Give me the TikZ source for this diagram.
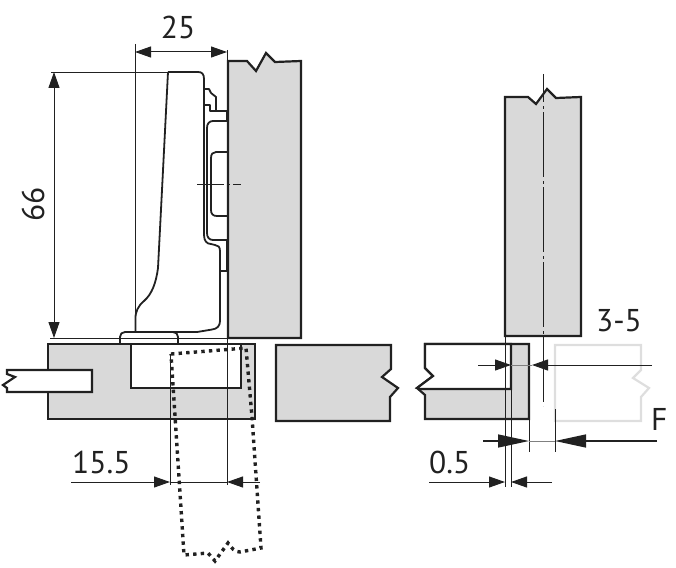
\documentclass[tikz,border=0pt]{standalone}
\usepackage{fontspec}
\setmainfont{PT Sans}
\usetikzlibrary{arrows.meta}
\definecolor{panelgray}{gray}{0.85}
\definecolor{darkline}{gray}{0.13}
\tikzset{
  panel/.style={draw=darkline, line width=2.2pt, fill=panelgray, line join=miter},
  blank/.style={draw=darkline, line width=2.2pt, fill=white},
  hinge/.style={draw=darkline, line width=1.8pt, line join=round},
  thin line/.style={draw=darkline, line width=0.9pt},
  dim/.style={draw=darkline, line width=1pt},
  tip/.style={-{Triangle[length=16pt, width=11pt]}},
  bigtip/.style={-{Triangle[length=31pt, width=13pt]}},
  label/.style={font=\fontsize{31.5}{31.5}\selectfont, text=darkline, inner sep=0pt},
  door/.style={draw=darkline, line width=3.4pt, dash pattern=on 3.4pt off 4.2pt},
  ghost/.style={draw=black!13, line width=2.2pt}
}
\begin{document}
\begin{tikzpicture}[x=1pt, y=-1pt]
  \useasboundingbox (0,0) rectangle (676,567);

  % --- Upper panel, left view ---
  \draw[panel] (228,61) -- (247,61) -- (256,71) -- (266,53) -- (275,62) -- (301,61) -- (301,338) -- (228,338) -- cycle;

  % --- Lower panel, left view ---
  \draw[panel] (48,344) rectangle (255,419);
  \draw[blank] (131,344) rectangle (241,388);
  \draw[blank] (48,370) -- (92,370) -- (92,392) -- (7,392) -- (7,388) -- (3,385) -- (15,377) -- (7,374) -- (7,370) -- cycle;

  % --- Middle panel ---
  \draw[panel] (276,345) -- (391,345) -- (391,369) -- (382,377) -- (398,388) -- (390,397) -- (390,421) -- (276,421) -- cycle;

  % --- Hinge ---
  \draw[hinge] (168,72) -- (198,72) .. controls (202,72) and (204,74) .. (204,79) -- (204,235)
    .. controls (204,241) and (207,244) .. (211,244) -- (215,245) .. controls (218,245) and (220,247) .. (220,251)
    -- (220,321) .. controls (220,326) and (217,329) .. (212,329.5) -- (197,332) -- (135,332);
  \draw[hinge] (168,72) -- (162,190) -- (158,268) .. controls (156,283) and (152,294) .. (144,301)
    .. controls (138,306) and (135,312) .. (135.5,320) -- (135.5,332);
  \draw[hinge] (120,343) -- (120,337) .. controls (120,334) and (122,332) .. (125,332) -- (173,332)
    .. controls (176,332) and (178,334) .. (178,337) -- (178,343);
  \draw[hinge] (205,89) -- (209,89) -- (211,93) -- (216,97) -- (216,111) -- (227,111);
  \draw[hinge] (205,105) -- (210,105) -- (210,111) -- (216,111);
  \draw[hinge] (227,121) -- (213,121) .. controls (209,121) and (207,124) .. (207,128) -- (207,233)
    .. controls (207,237) and (209,240) .. (213,240) -- (227,240);
  \draw[hinge] (227,152) -- (216,152) .. controls (213,152) and (211,154) .. (211,158) -- (211,210)
    .. controls (211,214) and (213,216) .. (217,216) -- (227,216);
  \draw[hinge] (220,271) -- (227,271);
  \draw[line width=2.8pt, darkline] (227.5,111) -- (227.5,121) (227.5,240) -- (227.5,271);
  \draw[thin line, dash pattern=on 27pt off 3pt on 3pt off 3pt on 8pt] (197,184) -- (241,184);

  % --- Dimension 25 ---
  \draw[thin line] (135,44) -- (135,332);
  \draw[thin line] (227.5,50) -- (227.5,485);
  \draw[dim, tip] (181,52) -- (135,52);
  \draw[dim, tip] (181,52) -- (227,52);
  \node[label] (width25) at (178,27) {25};

  % --- Dimension 66 ---
  \draw[thin line] (51,72) -- (168,72);
  \draw[thin line] (50,338.5) -- (228,338.5);
  \draw[dim, tip] (54,200) -- (54,72);
  \draw[dim, tip] (54,200) -- (54,338);
  \node[label, rotate=90] (height66) at (33,204) {66};

  % --- Door, dotted position ---
  \draw[door] (171,354) -- (246,348) -- (252,417) -- (261,548) -- (240,552) .. controls (234,552) and (232,548) .. (228,543)
    -- (215,561) -- (208,553) -- (184,555) -- cycle;

  % --- Dimension 15.5 ---
  \draw[thin line] (170,354) -- (170,485);
  \draw[dim, tip] (71,482) -- (170,482);
  \draw[dim, tip] (260,482) -- (227,482);
  \draw[dim] (170,482) -- (227,482);
  \node[label, anchor=west] (depth155) at (72,462) {15.5};

  % --- Right view, panels ---
  \draw[ghost] (555,345) -- (641,345) -- (641,370) -- (633,378) -- (649,388) -- (641,397) -- (641,421) -- (555,421) -- cycle;
  \draw[panel] (425,344) -- (529,344) -- (529,419) -- (425,419) -- (425,395) -- (417,388) -- (433,376) -- (425,368) -- cycle;
  \draw[blank] (420,389) -- (511,389) -- (511,344) -- (425,344) -- (425,368) -- (433,376) -- (417,388) -- cycle;
  \draw[panel] (505,97) -- (528,97) -- (536,104) -- (547,89) -- (556,98) -- (581,97) -- (581,336) -- (505,336) -- cycle;
  \draw[thin line, dash pattern=on 65pt off 4pt on 3pt off 3pt, dash phase=37pt] (543,74) -- (543,406);

  % --- Right view, guide lines ---
  \draw[thin line] (505,336) -- (505,487);
  \draw[thin line] (511,344) -- (511,487);
  \draw[thin line] (529,419) -- (529,452);
  \draw[thin line] (555,409) -- (555,452);

  % --- Dimension 3-5 ---
  \draw[dim, tip] (478,365) -- (511,365);
  \draw[dim, tip] (652,365) -- (532,365);
  \draw[dim, black!50] (511,365) -- (532,365);
  \node[label, anchor=west] (gap35) at (596,321) {3-5};

  % --- Dimension F ---
  \draw[dim, line width=1.4pt, bigtip] (483,441) -- (529,441);
  \draw[dim, line width=1.4pt, bigtip] (657,441) -- (555,441);
  \draw[dim, black!50] (529,441) -- (555,441);
  \node[label, anchor=west] (forceF) at (651,419) {F};

  % --- Dimension 0.5 ---
  \draw[dim, tip] (429,482) -- (505,482);
  \draw[dim, tip] (552,482) -- (511,482);
  \node[label, anchor=west] (offset05) at (429,462) {0.5};
\end{tikzpicture}
\end{document}
